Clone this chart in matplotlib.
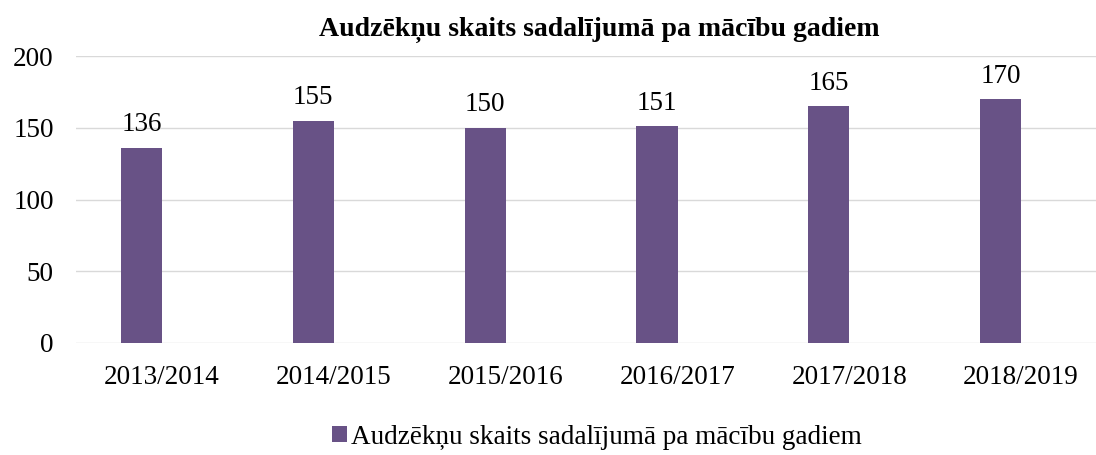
import matplotlib.pyplot as plt
import numpy as np

years = ["2013/2014", "2014/2015", "2015/2016", "2016/2017", "2017/2018", "2018/2019"]
students = [136, 155, 150, 151, 165, 170]
series_name = "Audzēkņu skaits sadalījumā pa mācību gadiem"
title = "Audzēkņu skaits sadalījumā pa mācību gadiem"

bar_color = "#685286"
grid_color = "#D9D9D9"
fs = 19.5

plt.rcParams["font.family"] = ["Liberation Serif", "DejaVu Serif"]

fig = plt.figure(figsize=(10.96, 4.55), dpi=100)
# plot area in pixels: left 76, runs off the right edge, y from 56 to 343
ax = fig.add_axes([76 / 1096, (455 - 343) / 455, (1096 - 76) / 1096, 287 / 455])

x = np.arange(len(years))
bar_w = 0.239
offset = -0.119  # bars sit left of category centre (empty second series slot)
bars = ax.bar(x + offset, students, width=bar_w, color=bar_color, label=series_name, zorder=3)

for xi, v in zip(x, students):
    ax.annotate(str(v), (xi + offset, v), xytext=(0, 7.5), textcoords="offset points",
                ha="center", va="bottom", fontsize=fs, color="#000000")

ax.set_ylim(0, 200)
ax.set_yticks([0, 50, 100, 150, 200])
ax.set_xlim(-0.5, 5.436)
ax.set_xticks(x)
ax.set_xticklabels(years)
ax.tick_params(axis="both", length=0, labelsize=fs, colors="#000000")
ax.tick_params(axis="x", pad=16)
ax.tick_params(axis="y", pad=16)
ax.yaxis.grid(True, color=grid_color, linewidth=1.0, zorder=0)
ax.set_axisbelow(True)
for s in ax.spines.values():
    s.set_visible(False)

fig.text(0.5465, 1 - 30 / 455, title, ha="center", va="center",
         fontsize=20, fontweight="bold")

fig.legend(handles=[bars], labels=[series_name], loc="center",
           bbox_to_anchor=(0.545, 1 - 437 / 455), frameon=False,
           fontsize=fs, handlelength=0.52, handleheight=0.52, handletextpad=0.18)

fig.savefig("out.png", dpi=100)
